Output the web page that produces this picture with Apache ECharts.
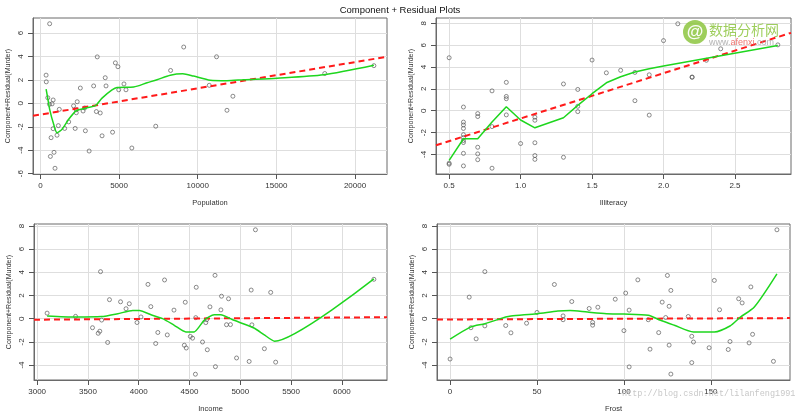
<!DOCTYPE html>
<html>
<head>
<meta charset="utf-8">
<script src="https://cdn.jsdelivr.net/npm/echarts@6/dist/echarts.min.js"></script>
<style>
html,body{margin:0;padding:0;background:#fff;}
#main{width:800px;height:414px;}
</style>
</head>
<body>
<div id="main"></div>
<script>
// ---- data (50 US states, state order) ----
var population = [3615,365,2212,2110,21198,2541,3100,579,8277,4931,868,813,11197,5313,2861,2280,3387,3806,1058,4122,5814,9111,3921,2341,4767,746,1544,590,812,7333,1144,18076,5441,637,10735,2715,2284,11860,931,2816,681,4173,12237,1203,472,4981,3559,1799,4589,376];
var illiteracy = [2.1,1.5,1.8,1.9,1.1,0.7,1.1,0.9,1.3,2.0,1.9,0.6,0.9,0.7,0.5,0.6,1.6,2.8,0.7,0.9,1.1,0.9,0.6,2.4,0.8,0.6,0.6,0.5,0.7,1.1,2.2,1.4,1.8,0.8,0.8,1.1,0.6,1.0,1.3,2.3,0.5,1.7,2.2,0.6,0.6,1.4,0.6,1.4,0.7,0.6];
var income = [3624,6315,4530,3378,5114,4884,5348,4809,4815,4091,4963,4119,5107,4458,4628,4669,3712,3545,3694,5299,4755,4751,4675,3098,4254,4347,4508,5149,4281,5237,3601,4903,3875,5087,4561,3983,4660,4449,4558,3635,4167,3821,4188,4022,3907,4701,4864,3617,4468,4566];
var frost = [20,152,15,65,20,166,139,103,11,60,0,126,127,122,140,114,95,12,161,101,103,125,160,50,108,155,139,188,174,115,120,82,80,186,124,82,44,126,127,65,172,70,35,137,168,85,32,100,149,173];

// component + residual values (Murder)
var crPop = [3.97,2.41,-2.14,-0.21,3.22,1.31,-4.07,-0.08,2.81,3.13,-4.18,0.29,3.98,1.66,-2.34,-0.54,1.49,-0.82,-2.72,2.19,-3.81,4.81,-2.77,0.14,3.46,-0.04,-2.14,6.80,-2.16,-1.95,-1.90,2.55,1.16,-4.53,1.54,-0.65,-0.80,-0.59,-5.54,-0.39,-2.93,1.49,0.61,-0.51,0.48,1.16,-0.70,-1.58,-2.46,1.84];
var crIll = [7.96,4.64,0.92,3.29,-0.87,-0.26,-4.10,-0.38,2.45,6.42,-0.40,-1.30,1.31,-0.53,-4.80,-2.46,3.47,6.03,-3.95,1.10,-4.45,2.60,-5.05,5.67,1.82,-1.62,-3.90,4.85,-3.34,-2.93,3.06,0.41,3.51,-5.26,-1.45,-0.59,-2.72,-3.00,-4.26,4.62,-4.90,3.70,3.09,-2.19,-1.04,1.95,-2.91,-0.08,-4.48,0.34];
var crInc = [4.06,3.40,-1.68,0.20,-0.53,1.72,-3.75,0.76,1.94,2.96,-3.39,1.04,2.47,1.42,-2.01,-0.08,1.64,-0.78,-2.05,2.27,-4.14,3.74,-2.68,0.48,3.34,0.74,-1.53,7.67,-1.40,-2.59,-1.26,-0.51,0.86,-3.69,0.09,-0.33,-0.34,-2.29,-4.79,-0.12,-2.14,1.46,-1.19,0.15,1.29,1.02,-0.52,-1.08,-2.53,2.71];
var crFrost = [4.06,3.30,-1.74,0.24,-0.62,1.72,-3.79,0.74,1.86,2.95,-3.48,1.07,2.44,1.43,-2.01,-0.09,1.68,-0.78,-1.97,2.21,-4.16,3.73,-2.66,0.54,3.35,0.77,-1.52,7.67,-1.35,-2.63,-1.20,-0.56,0.88,-3.68,0.10,-0.32,-0.39,-2.28,-4.78,-0.09,-2.09,1.48,-1.22,0.19,1.36,0.99,-0.59,-1.03,-2.51,2.74];

// fitted component lines (red dashed), endpoints
var fitPopX = [-468,22031], fitPopY = [-1.06,3.98];
var fitIllX = [0.408,2.892], fitIllY = [-3.16,7.13];
var fitIncX = [2969,6444], fitIncY = [-0.09,0.13];
var fitFrostX = [-7.52,195.52], fitFrostY = [-0.07,0.05];

// smoother lines (green)
var smPopX = [365,465,591,845,1060,1380,1800,2224,2435,2967,3494,3920,4555,4873,5930,6780,7415,8260,9050,9740,10800,11860,12920,15040,18000,21198];
var smPopY = [1.22,0.48,-0.51,-1.79,-2.5,-2.2,-1.36,-0.68,-0.55,-0.37,-0.2,0.45,1.15,1.36,1.40,1.76,2.02,2.41,2.53,2.33,1.98,1.94,2.02,2.15,2.44,3.26];
var smIllX = [0.5,0.6,0.7,0.8,0.9,1.0,1.1,1.3,1.4,1.5,1.6,1.7,1.8,1.9,2.0,2.8];
var smIllY = [-4.55,-2.56,-2.56,-1.04,0.37,-0.85,-1.56,-0.64,0.49,1.56,2.56,3.11,3.54,3.85,4.09,5.98];
var smIncX = [3098,3369,3631,3794,3941,4007,4121,4235,4350,4464,4546,4644,4742,4807,4938,5134,5232,5337,6315];
var smIncY = [0.23,0.14,0.18,0.43,0.71,0.71,0.34,0.0,-0.57,-1.14,-1.14,-0.14,0.34,0.34,-0.14,-0.8,-1.37,-1.94,3.43];
var smFrostX = [0,12,20,32,35,50,62,69,79,90,100,114,121,129,140,152,161,167,175,188];
var smFrostY = [-1.77,-0.71,-0.43,0.14,0.23,0.43,0.66,0.71,0.57,0.43,0.4,0.29,-0.14,-0.57,-1.14,-1.14,-0.63,0.14,1.0,3.86];

// ticks
var popTicks = [0,5000,10000,15000,20000];
var illTicks = [0.5,1.0,1.5,2.0,2.5];
var incTicks = [3000,3500,4000,4500,5000,5500,6000];
var frostTicks = [0,50,100,150];
var yTicksTop = [-6,-4,-2,0,2,4,6];
var yTicksIll = [-4,-2,0,2,4,6,8];
var yTicksBottom = [-4,-2,0,2,4,6,8];

var yName = 'Component+Residual(Murder)';
var FONT = 'Liberation Sans';

function zip(a, b) { return a.map(function (v, i) { return [v, b[i]]; }); }

function xAxis(idx, min, max, ticks, name, dec) {
  return {
    type: 'value', gridIndex: idx, min: min, max: max, position: 'bottom',
    name: name, nameLocation: 'middle', nameGap: 25,
    nameTextStyle: { fontSize: 7.5, color: '#333', fontFamily: FONT },
    axisLine: { show: true, onZero: false, lineStyle: { color: '#6a6a6a', width: 1 } },
    axisTick: { show: true, inside: false, length: 5, lineStyle: { color: '#555' }, customValues: ticks },
    axisLabel: { show: true, fontSize: 8, color: '#333', fontFamily: FONT, margin: 8, customValues: ticks,
      formatter: function (v) { return dec ? v.toFixed(dec) : String(v); } },
    splitLine: { show: true, lineStyle: { color: '#dedede', width: 1 } }
  };
}
function yAxis(idx, min, max, ticks) {
  return {
    type: 'value', gridIndex: idx, min: min, max: max, position: 'left',
    name: yName, nameLocation: 'middle', nameGap: 21, nameRotate: 90,
    nameTextStyle: { fontSize: 7, color: '#333', fontFamily: FONT },
    axisLine: { show: true, onZero: false, lineStyle: { color: '#6a6a6a', width: 1 } },
    axisTick: { show: true, inside: false, length: 5, lineStyle: { color: '#555' }, customValues: ticks },
    axisLabel: { show: true, rotate: 90, fontSize: 8, color: '#333', fontFamily: FONT, margin: 8, customValues: ticks },
    splitLine: { show: true, lineStyle: { color: '#dedede', width: 1 } }
  };
}
function grid(l, t, w, h) {
  return { left: l, top: t, width: w, height: h, show: true, borderColor: '#6a6a6a', borderWidth: 1, backgroundColor: 'transparent' };
}
function panelSeries(idx, xs, ys, fx, fy, sx, sy, sm) {
  return [
    { type: 'scatter', xAxisIndex: idx, yAxisIndex: idx, data: zip(xs, ys), symbol: 'circle', symbolSize: 4,
      itemStyle: { color: 'rgba(255,255,255,0)', borderColor: '#4a4a4a', borderWidth: 0.8 }, silent: true, z: 2 },
    { type: 'line', xAxisIndex: idx, yAxisIndex: idx, data: zip(fx, fy), symbol: 'none',
      lineStyle: { color: '#ff1a1a', width: 2, type: [6, 4] }, silent: true, z: 3 },
    { type: 'line', xAxisIndex: idx, yAxisIndex: idx, data: zip(sx, sy), symbol: 'none', smooth: sm,
      lineStyle: { color: '#1ed61e', width: 1.5 }, silent: true, z: 4 }
  ];
}

var chart = echarts.init(document.getElementById('main'), null, { renderer: 'canvas' });
chart.setOption({
  animation: false,
  backgroundColor: '#ffffff',
  textStyle: { fontFamily: FONT },
  title: { text: 'Component + Residual Plots', left: 'center', top: 0,
    textStyle: { fontSize: 9.5, fontWeight: 'normal', color: '#111', fontFamily: FONT } },
  grid: [grid(33, 18, 354, 156), grid(436, 18, 355, 156), grid(34, 224, 353, 157), grid(437, 224, 353, 157)],
  xAxis: [
    xAxis(0, fitPopX[0], fitPopX[1], popTicks, 'Population', 0),
    xAxis(1, fitIllX[0], fitIllX[1], illTicks, 'Illiteracy', 1),
    xAxis(2, fitIncX[0], fitIncX[1], incTicks, 'Income', 0),
    xAxis(3, fitFrostX[0], fitFrostX[1], frostTicks, 'Frost', 0)
  ],
  yAxis: [
    yAxis(0, -6.03, 7.29, yTicksTop),
    yAxis(1, -5.79, 8.49, yTicksIll),
    yAxis(2, -5.29, 8.17, yTicksBottom),
    yAxis(3, -5.29, 8.17, yTicksBottom)
  ],
  series: [].concat(
    panelSeries(0, population, crPop, fitPopX, fitPopY, smPopX, smPopY, 0.25),
    panelSeries(1, illiteracy, crIll, fitIllX, fitIllY, smIllX, smIllY, false),
    panelSeries(2, income, crInc, fitIncX, fitIncY, smIncX, smIncY, 0.2),
    panelSeries(3, frost, crFrost, fitFrostX, fitFrostY, smFrostX, smFrostY, 0.25)
  ),
  graphic: [
    { type: 'circle', shape: { cx: 695, cy: 32, r: 12 }, style: { fill: '#8dc63f', opacity: 0.85 }, z: 100 },
    { type: 'text', x: 695, y: 32, style: { text: '@', fill: '#ffffff', font: 'bold 17px "Liberation Sans"', align: 'center', verticalAlign: 'middle', opacity: 0.95 }, z: 101 },
    { type: 'text', x: 709, y: 30, style: { text: '数据分析网', fill: '#8dc63f', font: '14px "Noto Sans CJK SC"', verticalAlign: 'middle', opacity: 0.85 }, z: 100 },
    { type: 'text', x: 709, y: 43, style: { text: '{g|www.}{r|afenxi}{g|.com}', verticalAlign: 'middle',
      rich: { g: { fill: '#a0a0a0', font: '9px "Liberation Sans"' }, r: { fill: '#e8504a', font: '9px "Liberation Sans"' } }, opacity: 0.8 }, z: 100 },
    { type: 'text', x: 622, y: 394, style: { text: 'http://blog.csdn.net/lilanfeng1991', fill: '#c8c8c8', font: '8.5px "Liberation Mono"', verticalAlign: 'middle' }, z: 100 }
  ]
});
</script>
</body>
</html>
